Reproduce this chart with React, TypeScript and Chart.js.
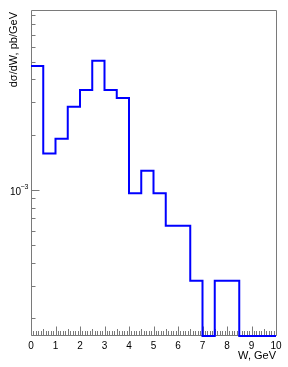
import React, { useEffect, useRef } from 'react';
import { Chart, registerables } from 'chart.js';

Chart.register(...registerables);

// Histogram bins (low edges, GeV) and content dσ/dW (pb/GeV)
const binLowEdges = [0, 0.5, 1, 1.5, 2, 2.5, 3, 3.5, 4, 4.5, 5, 5.5, 6, 6.5, 7, 7.5, 8, 8.5, 9, 9.5];
const binWidth = 0.5;
const crossSection = [
  4.73e-3, 1.58e-3, 1.9e-3, 2.84e-3, 3.5e-3, 5.06e-3, 3.5e-3, 3.17e-3, 9.6e-4, 1.27e-3,
  9.6e-4, 6.37e-4, 6.37e-4, 3.2e-4, 0, 3.2e-4, 3.2e-4, 0, 0, 0,
];
const xTickLabels = ['0', '1', '2', '3', '4', '5', '6', '7', '8', '9', '10'];
const yLabelledDecades = [-3];
const xRange = [0, 10];
const yRange = [1.6e-4, 9.55e-3];

const FONT = '"Liberation Sans", Arial, Helvetica, sans-serif';
const AXIS_COLOR = '#7a7a7a';

const rootAxes = {
  id: 'rootAxes',
  beforeDatasetsDraw(chart: any) {
    const { ctx, chartArea: a, scales } = chart;
    const x = scales.x;
    const y = scales.y;
    const L = Math.floor(a.left) + 0.5;
    const R = Math.floor(a.right) + 0.5;
    const T = Math.floor(a.top) + 0.5;
    const B = Math.floor(a.bottom) - 0.5;
    ctx.save();
    ctx.strokeStyle = AXIS_COLOR;
    ctx.lineWidth = 1;
    ctx.beginPath();
    ctx.moveTo(L, T); ctx.lineTo(R, T); ctx.lineTo(R, B); ctx.lineTo(L, B); ctx.closePath();
    ctx.stroke();

    // x ticks (every 0.1, medium at 0.5, long at integers)
    ctx.beginPath();
    const nMinor = Math.round((xRange[1] - xRange[0]) * 10);
    for (let i = 0; i <= nMinor; i++) {
      const v = xRange[0] + i / 10;
      const px = Math.round(x.getPixelForValue(v)) + 0.5;
      const len = i % 10 === 0 ? 9 : i % 5 === 0 ? 6.5 : 4.5;
      ctx.moveTo(px, B);
      ctx.lineTo(px, B - len);
    }
    ctx.stroke();

    // y ticks (log)
    ctx.beginPath();
    for (let e = -5; e <= -1; e++) {
      for (let m = 1; m <= 9; m++) {
        const v = m * Math.pow(10, e);
        if (v < y.min || v > y.max) continue;
        const py = Math.round(y.getPixelForValue(v)) + 0.5;
        const len = m === 1 ? 8 : 4;
        ctx.moveTo(L, py);
        ctx.lineTo(L + len, py);
      }
    }
    ctx.stroke();

    // x tick labels
    ctx.fillStyle = '#000';
    ctx.font = `10px ${FONT}`;
    ctx.textAlign = 'center';
    ctx.textBaseline = 'alphabetic';
    xTickLabels.forEach((lab) => {
      const px = x.getPixelForValue(Number(lab));
      ctx.fillText(lab, px, a.bottom + 13);
    });

    // y labels 10^e
    yLabelledDecades.forEach((e) => {
      const py = y.getPixelForValue(Math.pow(10, e));
      ctx.font = `10px ${FONT}`;
      ctx.textAlign = 'right';
      ctx.fillText('10', a.left - 10, py + 5);
      ctx.font = `7px ${FONT}`;
      ctx.textAlign = 'left';
      ctx.fillText('\u2212' + String(-e), a.left - 10.5, py - 0.5);
    });

    // axis titles
    ctx.font = `11px ${FONT}`;
    ctx.textAlign = 'right';
    ctx.fillText('W, GeV', a.right, a.bottom + 23);

    ctx.save();
    ctx.translate(16.5, a.top + 2);
    ctx.rotate(-Math.PI / 2);
    ctx.textAlign = 'right';
    ctx.fillText('d\u03c3/dW, pb/GeV', 0, 0);
    ctx.restore();

    ctx.restore();
  },
};

export default function App() {
  const ref = useRef<HTMLCanvasElement | null>(null);
  useEffect(() => {
    if (!ref.current) return;
    const floor = yRange[0];
    const pts = binLowEdges.map((lo, i) => ({ x: lo, y: crossSection[i] > 0 ? crossSection[i] : floor }));
    const last = crossSection[crossSection.length - 1];
    pts.push({ x: binLowEdges[binLowEdges.length - 1] + binWidth, y: last > 0 ? last : floor });
    const chart = new Chart(ref.current, {
      type: 'line',
      data: {
        datasets: [
          {
            data: pts,
            stepped: 'before',
            borderColor: '#0000ff',
            borderWidth: 2,
            pointRadius: 0,
            fill: false,
            clip: false as any,
            borderJoinStyle: 'miter',
            borderCapStyle: 'butt',
          } as any,
        ],
      },
      options: {
        animation: false,
        responsive: false,
        devicePixelRatio: 1,
        layout: { padding: { left: 31, right: 12, top: 10, bottom: 31 } },
        plugins: { legend: { display: false }, tooltip: { enabled: false } },
        scales: {
          x: { type: 'linear', min: xRange[0], max: xRange[1], display: false },
          y: { type: 'logarithmic', min: yRange[0], max: yRange[1], display: false },
        },
      },
      plugins: [rootAxes],
    });
    return () => chart.destroy();
  }, []);
  return (
    <div style={{ position: 'absolute', left: 0, top: 0, width: 288, height: 367, background: '#fff' }}>
      <canvas ref={ref} width={288} height={367} style={{ display: 'block', width: 288, height: 367 }} />
    </div>
  );
}
